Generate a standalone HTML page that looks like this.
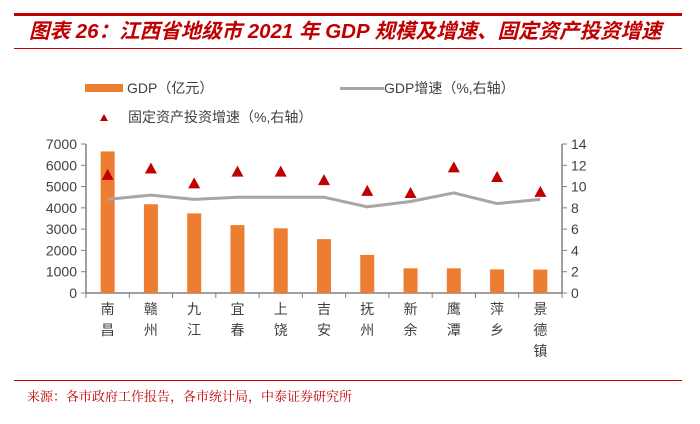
<!DOCTYPE html>
<html><head><meta charset="utf-8"><style>
body{margin:0;background:#fff;}
svg text{font-family:"Liberation Sans","Noto Sans CJK SC",sans-serif;}
</style></head><body>
<svg width="700" height="419" viewBox="0 0 700 419">
<rect x="14" y="13" width="668" height="3" fill="#c00000"/>
<text x="29" y="38" font-size="20.5" font-weight="bold" font-style="italic" fill="#c00000">图表 26：江西省地级市 2021 年 GDP 规模及增速、固定资产投资增速</text>
<rect x="14" y="48" width="668" height="1" fill="#c00000"/>
<g>
<rect x="85" y="84" width="38" height="8" fill="#ed7d31"/>
<text x="127" y="93" font-size="14" fill="#404040">GDP（亿元）</text>
<rect x="340" y="87" width="44" height="3" fill="#a6a6a6"/>
<text x="384" y="93" font-size="14" fill="#404040">GDP增速（%,右轴）</text>
<path d="M100,121 L104,114 L108,121 Z" fill="#c00000"/>
<text x="128" y="122" font-size="14" fill="#404040">固定资产投资增速（%,右轴）</text>
</g>
<g id="plot"></g>
<rect x="14" y="380" width="668" height="1" fill="#c00000"/>
<text x="27" y="401" font-size="13" fill="#c00000" style="font-family:'Liberation Serif','Noto Serif CJK SC',serif">来源：各市政府工作报告，各市统计局，中泰证券研究所</text>
</svg>
<script>
const categories=["南昌","赣州","九江","宜春","上饶","吉安","抚州","新余","鹰潭","萍乡","景德镇"];
const gdp=[6651,4170,3740,3190,3040,2530,1790,1160,1160,1110,1100];
const gdpGrowth=[8.8,9.2,8.8,9.0,9.0,9.0,8.1,8.6,9.4,8.4,8.8];
const investGrowth=[11.1,11.7,10.3,11.4,11.4,10.6,9.6,9.4,11.8,10.9,9.5];
const leftTicks=[0,1000,2000,3000,4000,5000,6000,7000];
const rightTicks=[0,2,4,6,8,10,12,14];
const NS="http://www.w3.org/2000/svg";
const g=document.getElementById('plot');
const X0=86,X1=562,Y0=293,Y1=144;
const band=(X1-X0)/categories.length;
const xc=i=>X0+band*(i+0.5);
const yL=v=>Y0-(v/7000)*(Y0-Y1);
const yR=v=>Y0-(v/14)*(Y0-Y1);
function mk(t,a){const e=document.createElementNS(NS,t);for(const k in a)e.setAttribute(k,a[k]);g.appendChild(e);return e;}
let ax=mk('line',{x1:X0,y1:Y1,x2:X0,y2:Y0,stroke:'#808080','stroke-width':1.5});

ax=mk('line',{x1:X1,y1:Y1,x2:X1,y2:Y0,stroke:'#808080','stroke-width':1.5});

ax=mk('line',{x1:X0,y1:Y0,x2:X1,y2:Y0,stroke:'#808080','stroke-width':1.5});

leftTicks.forEach(v=>{
 const y=yL(v);
 const l=mk('line',{x1:X0-5,y1:y,x2:X0,y2:y,stroke:'#808080'});
 
 const t=mk('text',{x:X0-9,y:y+5,'text-anchor':'end','font-size':14,fill:'#404040'});t.textContent=v;
 
});
rightTicks.forEach(v=>{
 const y=yR(v);
 const l=mk('line',{x1:X1,y1:y,x2:X1+5,y2:y,stroke:'#808080'});
 
 const t=mk('text',{x:X1+9,y:y+5,'font-size':14,fill:'#404040'});t.textContent=v;
 
});
for(let i=0;i<=categories.length;i++){
 const x=X0+band*i;
 const l=mk('line',{x1:x,y1:Y0,x2:x,y2:Y0+5,stroke:'#808080'});
 
}
categories.forEach((c,i)=>{
 [...c].forEach((ch,j)=>{
  const t=mk('text',{x:xc(i),y:314+j*21,'text-anchor':'middle','font-size':14,fill:'#404040'});
  t.textContent=ch;
  
 });
 const b=mk('rect',{x:xc(i)-7,y:yL(gdp[i]),width:14,height:Y0-yL(gdp[i]),fill:'#ed7d31'});
 
});
const pl=mk('polyline',{points:gdpGrowth.map((v,i)=>xc(i)+','+yR(v)).join(' '),fill:'none',stroke:'#a6a6a6','stroke-width':3});

investGrowth.forEach((v,i)=>{
 const x=xc(i),y=yR(v);
 const p=mk('path',{d:`M${x-6},${y+5} L${x},${y-6} L${x+6},${y+5} Z`,fill:'#c00000'});
 
});
</script>
</body></html>
